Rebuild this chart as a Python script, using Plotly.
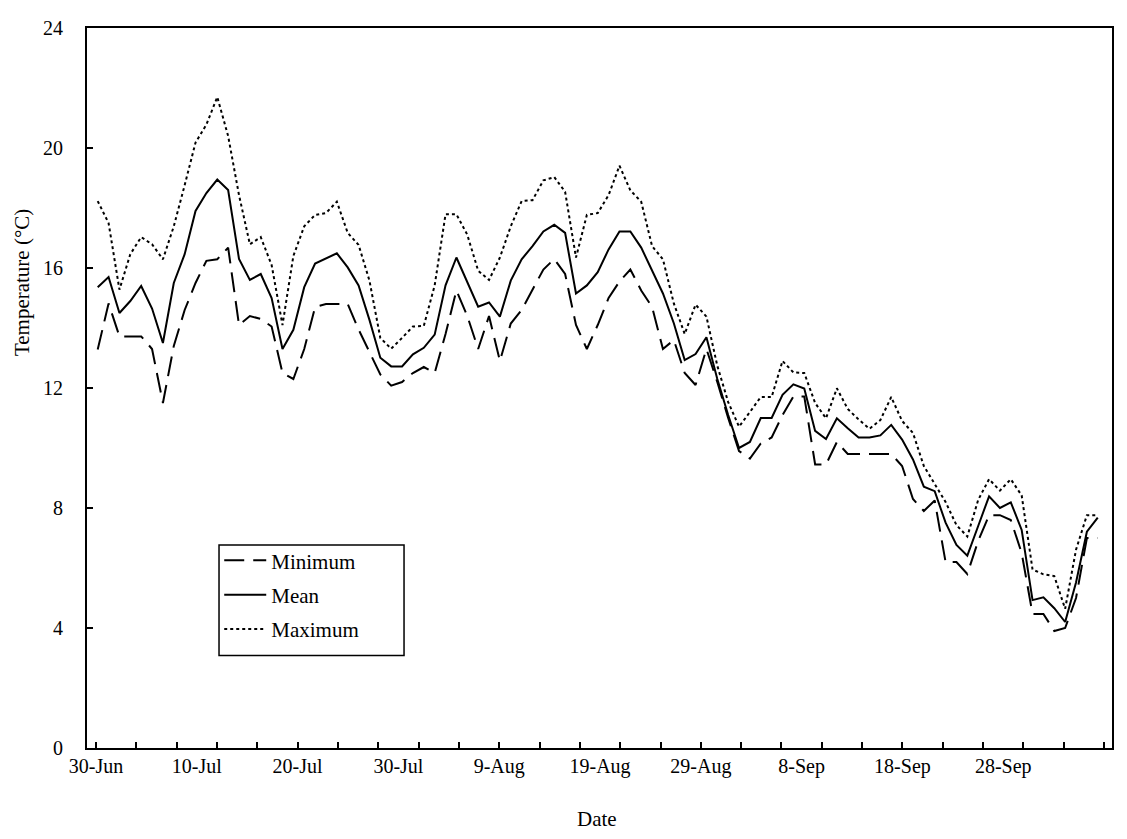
import plotly.graph_objects as go

# ---- data ----
day_index = list(range(93))  # daily readings, 30-Jun ... 30-Sep

minimum = [13.28, 14.82, 13.72, 13.72, 13.72, 13.3, 11.5, 13.4, 14.6, 15.5,
           16.24, 16.29, 16.68, 14.1, 14.4, 14.3, 14.05, 12.5, 12.3, 13.3,
           14.7, 14.8, 14.8, 14.8, 13.95, 13.2, 12.45, 12.08, 12.2, 12.5,
           12.7, 12.5, 13.8, 15.25, 14.4, 13.3, 14.4, 12.9, 14.15, 14.6,
           15.25, 15.95, 16.3, 15.8, 14.1, 13.3, 14.1, 15.0, 15.55, 15.95,
           15.25, 14.7, 13.3, 13.6, 12.5, 12.1, 13.3, 12.2, 11.0, 9.9,
           9.65, 10.15, 10.35, 11.1, 11.72, 11.72, 9.45, 9.45, 10.2, 9.8,
           9.8, 9.8, 9.8, 9.8, 9.4, 8.3, 7.9, 8.25, 6.2, 6.2,
           5.8, 6.9, 7.76, 7.76, 7.6, 6.5, 4.47, 4.47, 3.9, 4.0,
           5.0, 7.0, 7.0]

mean = [15.36, 15.7, 14.5, 14.9, 15.4, 14.65, 13.5, 15.5, 16.46, 17.9,
        18.5, 18.95, 18.6, 16.3, 15.6, 15.8, 15.0, 13.3, 13.94, 15.36,
        16.15, 16.33, 16.49, 16.02, 15.42, 14.27, 13.01, 12.72, 12.72, 13.12,
        13.34, 13.78, 15.42, 16.35, 15.53, 14.71, 14.85, 14.38, 15.58, 16.29,
        16.73, 17.22, 17.44, 17.17, 15.15, 15.42, 15.86, 16.62, 17.22, 17.22,
        16.68, 15.91, 15.15, 14.16, 12.93, 13.13, 13.69, 12.3, 11.1, 10.0,
        10.2, 11.0, 11.0, 11.77, 12.12, 11.98, 10.57, 10.3, 10.99, 10.66,
        10.35, 10.35, 10.42, 10.77, 10.28, 9.62, 8.71, 8.56, 7.51, 6.77,
        6.41, 7.40, 8.39, 8.0, 8.19, 7.27, 4.93, 5.02, 4.66, 4.2,
        5.52, 7.21, 7.68]

maximum = [18.23, 17.5, 15.28, 16.46, 17.03, 16.79, 16.29, 17.39, 18.76, 20.18,
           20.78, 21.7, 20.4, 18.43, 16.79, 17.03, 16.1, 14.1, 16.4, 17.39,
           17.77, 17.83, 18.21, 17.17, 16.77, 15.58, 13.67, 13.31, 13.67, 14.05,
           14.07, 15.42, 17.79, 17.79, 17.11, 15.91, 15.6, 16.35, 17.39, 18.23,
           18.26, 18.92, 19.03, 18.54, 16.35, 17.77, 17.83, 18.43, 19.41, 18.59,
           18.21, 16.73, 16.29, 14.82, 13.8, 14.78, 14.38, 12.74, 11.53, 10.71,
           11.2, 11.7, 11.7, 12.9, 12.52, 12.5, 11.5, 10.99, 11.99, 11.3,
           10.95, 10.64, 10.93, 11.7, 10.9, 10.5, 9.4, 8.82, 8.2, 7.43,
           7.05, 8.27, 8.96, 8.58, 8.96, 8.42, 5.95, 5.79, 5.73, 4.64,
           6.61, 7.76, 7.76]

label_days = [0, 10, 20, 30, 40, 50, 60, 70, 80, 90]
label_text = ["30-Jun", "10-Jul", "20-Jul", "30-Jul", "9-Aug",
              "19-Aug", "29-Aug", "8-Sep", "18-Sep", "28-Sep"]
y_ticks = [0, 4, 8, 12, 16, 20, 24]

FONT = "Liberation Serif, Times New Roman, serif"

series = [
    ("Minimum", minimum, "20px,9px"),
    ("Mean", mean, "solid"),
    ("Maximum", maximum, "3px,3px"),
]

fig = go.Figure()
for name, vals, dash in series:
    fig.add_trace(go.Scatter(
        x=day_index, y=vals, mode="lines", name=name,
        legendgroup=name,
        line=dict(color="black", width=2, dash=dash),
    ))

# carrier for the date-label axis (no visible marks)
fig.add_trace(go.Scatter(
    x=label_days, y=[None] * len(label_days), xaxis="x2", yaxis="y",
    mode="lines", showlegend=False, hoverinfo="skip",
))

fig.update_layout(
    width=1119, height=831,
    margin=dict(l=79, r=15, t=9, b=91),
    paper_bgcolor="white", plot_bgcolor="white",
    font=dict(family=FONT, size=20, color="black"),
    showlegend=True,
    legend=dict(
        x=0.129, y=0.2886, xanchor="left", yanchor="top",
        borderwidth=0, bgcolor="rgba(0,0,0,0)",
        font=dict(family=FONT, size=21, color="black"),
        tracegroupgap=4, traceorder="grouped", itemwidth=42,
    ),
    shapes=[
        dict(type="rect", xref="paper", yref="paper",
             x0=0.1288, x1=0.3093, y0=0.1286, y1=0.2818,
             line=dict(color="black", width=1.5), fillcolor="rgba(0,0,0,0)",
             layer="above"),
    ],
    xaxis=dict(
        range=[-0.984, 93.31], showline=True, mirror=True,
        linecolor="black", linewidth=2, ticks="", showticklabels=False,
        showgrid=False, zeroline=False,
    ),
    xaxis2=dict(
        overlaying="x", anchor="y", side="bottom",
        range=[-0.893, 100.79],
        tickmode="array", tickvals=label_days, ticktext=label_text,
        ticks="", showline=False, showgrid=False, zeroline=False,
        tickfont=dict(family=FONT, size=20, color="black"),
        ticklabelstandoff=4,
        minor=dict(tickmode="linear", tick0=0, dtick=4, ticks="inside",
                   ticklen=6, tickwidth=1.5, tickcolor="black", showgrid=False),
    ),
    yaxis=dict(
        range=[0, 24], tickmode="array", tickvals=y_ticks,
        ticks="inside", ticklen=6, tickwidth=1.5, tickcolor="black",
        showline=True, mirror=True, linecolor="black", linewidth=2,
        showgrid=False, zeroline=False,
        tickfont=dict(family=FONT, size=20, color="black"),
        ticklabelstandoff=18,
    ),
    annotations=[
        dict(text="Temperature (°C)", xref="paper", yref="paper",
             x=-0.0634, y=0.6457, textangle=-90, showarrow=False,
             xanchor="center", yanchor="middle",
             font=dict(family=FONT, size=21, color="black")),
        dict(text="Date", xref="paper", yref="paper",
             x=0.4976, y=-0.0985, showarrow=False,
             xanchor="center", yanchor="middle",
             font=dict(family=FONT, size=21, color="black")),
    ],
)

fig.write_html("out.html")
